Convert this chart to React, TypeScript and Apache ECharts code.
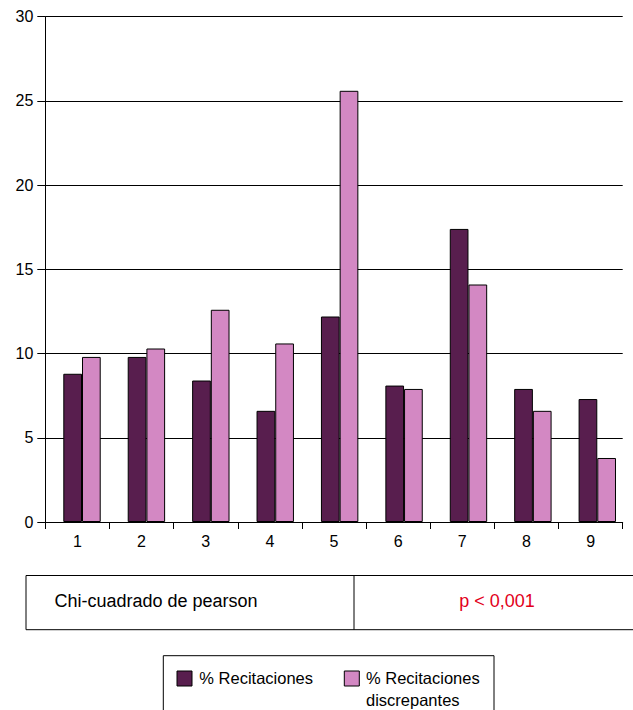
import React, { useEffect, useRef } from "react";
import * as echarts from "echarts";

const categories = ["1", "2", "3", "4", "5", "6", "7", "8", "9"];
const recitaciones = [8.8, 9.8, 8.4, 6.6, 12.2, 8.1, 17.4, 7.9, 7.3];
const discrepantes = [9.8, 10.3, 12.6, 10.6, 25.6, 7.9, 14.1, 6.6, 3.8];
const seriesNames = ["% Recitaciones", "% Recitaciones\ndiscrepantes"];
const seriesColors = ["#581e4e", "#d388c3"];
const tableTexts = ["Chi-cuadrado de pearson", "p < 0,001"];
const yMin = 0;
const yMax = 30;
const yStep = 5;

const FONT = "'Liberation Sans', Arial, Helvetica, sans-serif";

export default function App() {
  const ref = useRef<HTMLDivElement>(null);

  useEffect(() => {
    document.body.style.margin = "0";
    const chart = echarts.init(ref.current as HTMLDivElement, null, { renderer: "svg" });
    chart.setOption({
      animation: false,
      backgroundColor: "#ffffff",
      textStyle: { fontFamily: FONT, color: "#000" },
      grid: [
        { left: 45.3, right: 10.3, top: 16.7, bottom: 188 },
        { left: 49.8, right: 3.5, top: 16.7, bottom: 188 },
      ],
      xAxis: [
        {
          gridIndex: 0,
          type: "category",
          data: categories,
          boundaryGap: true,
          axisLine: { show: true, lineStyle: { color: "#000", width: 1 } },
          axisTick: { show: true, length: 7, lineStyle: { color: "#000", width: 1 } },
          axisLabel: { color: "#000", fontSize: 16, margin: 11, fontFamily: FONT },
          splitLine: { show: false },
        },
        {
          gridIndex: 1,
          type: "category",
          data: categories,
          show: false,
        },
      ],
      yAxis: [
        {
          gridIndex: 0,
          type: "value",
          min: yMin,
          max: yMax,
          interval: yStep,
          axisLine: { show: true, lineStyle: { color: "#000", width: 1 } },
          axisTick: { show: true, length: 8, lineStyle: { color: "#000", width: 1 } },
          axisLabel: { color: "#000", fontSize: 16, margin: 12, fontFamily: FONT },
          splitLine: { show: true, lineStyle: { color: "#000", width: 1 } },
        },
        {
          gridIndex: 1,
          type: "value",
          min: yMin,
          max: yMax,
          interval: yStep,
          show: false,
          splitLine: { show: false },
        },
      ],
      series: [
        {
          name: seriesNames[0],
          type: "bar",
          xAxisIndex: 1,
          yAxisIndex: 1,
          data: recitaciones,
          barWidth: 18.7,
          barGap: "0%",
          itemStyle: { color: seriesColors[0], borderColor: "#000", borderWidth: 1 },
        },
        {
          name: seriesNames[1],
          type: "bar",
          xAxisIndex: 1,
          yAxisIndex: 1,
          data: discrepantes,
          barWidth: 18.7,
          barGap: "0%",
          itemStyle: { color: seriesColors[1], borderColor: "#000", borderWidth: 1 },
        },
      ],
      graphic: [
        // table
        {
          type: "rect",
          shape: { x: 26, y: 575.5, width: 640, height: 54.2 },
          style: { fill: "none", stroke: "#000", lineWidth: 1 },
        },
        {
          type: "line",
          shape: { x1: 354, y1: 575.5, x2: 354, y2: 629.7 },
          style: { stroke: "#000", lineWidth: 1 },
        },
        {
          type: "text",
          x: 54.5,
          y: 601,
          style: {
            text: tableTexts[0],
            fontSize: 18,
            fontFamily: FONT,
            fill: "#000",
            verticalAlign: "middle",
            align: "left",
          },
        },
        {
          type: "text",
          x: 497,
          y: 601,
          style: {
            text: tableTexts[1],
            fontSize: 18,
            fontFamily: FONT,
            fill: "#e2001a",
            verticalAlign: "middle",
            align: "center",
          },
        },
        // legend
        {
          type: "rect",
          shape: { x: 163.3, y: 655.7, width: 330.7, height: 80 },
          style: { fill: "none", stroke: "#000", lineWidth: 1 },
        },
        {
          type: "rect",
          shape: { x: 177, y: 671, width: 15, height: 15 },
          style: { fill: seriesColors[0], stroke: "#000", lineWidth: 1 },
        },
        {
          type: "text",
          x: 199.3,
          y: 678,
          style: {
            text: seriesNames[0],
            fontSize: 16.5,
            fontFamily: FONT,
            fill: "#000",
            verticalAlign: "middle",
            align: "left",
          },
        },
        {
          type: "rect",
          shape: { x: 344.3, y: 671, width: 15, height: 15 },
          style: { fill: seriesColors[1], stroke: "#000", lineWidth: 1 },
        },
        {
          type: "text",
          x: 366,
          y: 667,
          style: {
            text: seriesNames[1],
            fontSize: 16.5,
            lineHeight: 22,
            fontFamily: FONT,
            fill: "#000",
            verticalAlign: "top",
            align: "left",
          },
        },
      ],
    });
    return () => chart.dispose();
  }, []);

  return <div ref={ref} style={{ width: 633, height: 710 }} />;
}
